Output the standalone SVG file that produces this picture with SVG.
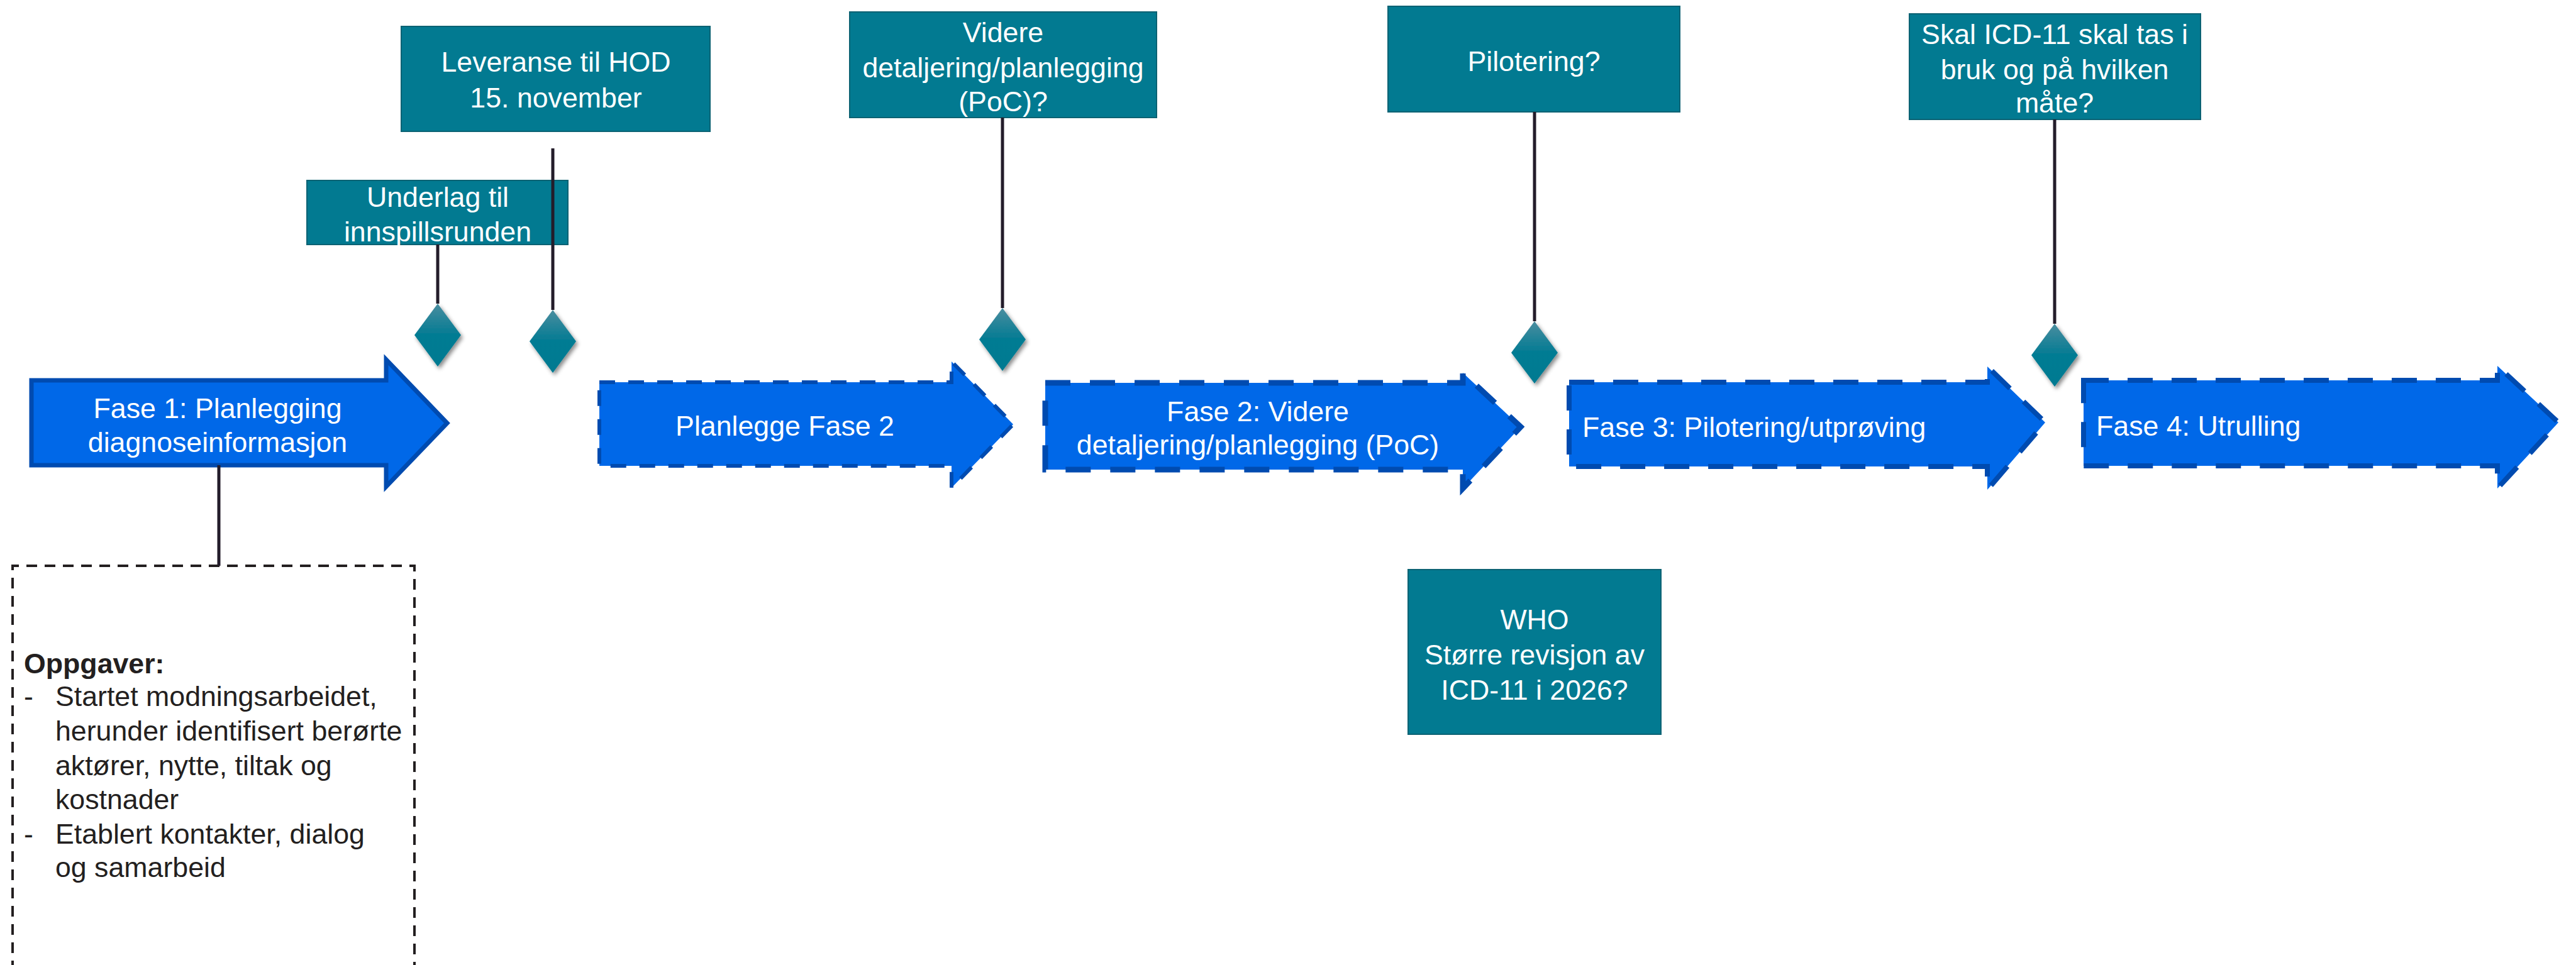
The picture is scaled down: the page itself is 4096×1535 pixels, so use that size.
<svg xmlns="http://www.w3.org/2000/svg" width="4096" height="1535" viewBox="0 0 4096 1535">
<defs>
<linearGradient id="dg" x1="0" y1="0" x2="0" y2="1">
<stop offset="0" stop-color="#4a8d9f"/>
<stop offset="0.5" stop-color="#027b93"/>
<stop offset="1" stop-color="#007a91"/>
</linearGradient>
<filter id="sh" x="-50%" y="-50%" width="200%" height="200%">
<feDropShadow dx="3" dy="4" stdDeviation="3" flood-color="#000" flood-opacity="0.45"/>
</filter>
</defs>
<style>
.box{fill:#027a91;stroke:#0b6273;stroke-width:2}
.bt{font-family:"Liberation Sans",Arial,sans-serif;font-size:44.7px;fill:#ffffff}
.c{text-anchor:middle}
.arr{fill:#0068e8;stroke:#004bb0}
.dia{fill:url(#dg);filter:url(#sh)}
.ln{stroke:#231c2a;stroke-width:5;fill:none}
.dt{font-family:"Liberation Sans",Arial,sans-serif;font-size:44.7px;fill:#231f20}
</style>
<rect width="4096" height="1535" fill="#ffffff"/>

<g id="leveranse">
<rect class="box" x="638" y="42" width="491" height="167"/>
<text class="bt c" x="884" y="114">Leveranse til HOD</text>
<text class="bt c" x="884" y="171">15. november</text>
</g>
<g id="underlag">
<rect class="box" x="488" y="287" width="415" height="102"/>
<text class="bt c" x="696" y="329">Underlag til</text>
<text class="bt c" x="696" y="384">innspillsrunden</text>
</g>
<g id="videre">
<rect class="box" x="1351" y="19" width="488" height="168"/>
<text class="bt c" x="1595" y="67">Videre</text>
<text class="bt c" x="1595" y="123">detaljering/planlegging</text>
<text class="bt c" x="1595" y="177">(PoC)?</text>
</g>
<g id="pilotering">
<rect class="box" x="2207" y="10" width="464" height="168"/>
<text class="bt c" x="2439" y="113">Pilotering?</text>
</g>
<g id="skal">
<rect class="box" x="3036" y="22" width="463" height="168"/>
<text class="bt c" x="3267" y="70">Skal ICD-11 skal tas i</text>
<text class="bt c" x="3267" y="126">bruk og på hvilken</text>
<text class="bt c" x="3267" y="179">måte?</text>
</g>
<g id="who">
<rect class="box" x="2239" y="906" width="402" height="262"/>
<text class="bt c" x="2440" y="1001">WHO</text>
<text class="bt c" x="2440" y="1057">Større revisjon av</text>
<text class="bt c" x="2440" y="1113">ICD-11 i 2026?</text>
</g>

<g id="fase1">
<path class="arr" stroke-width="7" d="M50,605 H614 V572 L711,673 L614,774 V740 H50 Z"/>
<text class="bt c" x="346" y="665">Fase 1: Planlegging</text>
<text class="bt c" x="346" y="719">diagnoseinformasjon</text>
</g>
<g id="planlegge">
<path class="arr" stroke-width="6" stroke-dasharray="25 21" d="M953,608 H1513 V575 L1611,675 L1513,776 V741 H953 Z"/>
<text class="bt c" x="1248" y="693">Planlegge Fase 2</text>
</g>
<g id="fase2">
<path class="arr" stroke-width="9" stroke-dasharray="40 31" d="M1662,609 H2326 V593 L2418,679 L2326,777 V747 H1662 Z"/>
<text class="bt c" x="2000" y="670">Fase 2: Videre</text>
<text class="bt c" x="2000" y="723">detaljering/planlegging (PoC)</text>
</g>
<g id="fase3">
<path class="arr" stroke-width="8" stroke-dasharray="40 30" d="M2495,608 H3160 V583 L3252,672 L3160,779 V742 H2495 Z"/>
<text class="bt" x="2516" y="695">Fase 3: Pilotering/utprøving</text>
</g>
<g id="fase4">
<path class="arr" stroke-width="8" stroke-dasharray="40 30" d="M3313,605 H3971 V582 L4068,672 L3971,777 V741 H3313 Z"/>
<text class="bt" x="3333" y="693">Fase 4: Utrulling</text>
</g>

<g id="oppgaver">
<path d="M20,1545 V900 H659 V1545" fill="none" stroke="#231f20" stroke-width="4" stroke-dasharray="17 12"/>
<text class="dt" x="38" y="1071" font-weight="bold">Oppgaver:</text>
<text class="dt" x="38" y="1123">-</text>
<text class="dt" x="88" y="1123">Startet modningsarbeidet,</text>
<text class="dt" x="88" y="1178">herunder identifisert berørte</text>
<text class="dt" x="88" y="1233">aktører, nytte, tiltak og</text>
<text class="dt" x="88" y="1287">kostnader</text>
<text class="dt" x="38" y="1342">-</text>
<text class="dt" x="88" y="1342">Etablert kontakter, dialog</text>
<text class="dt" x="88" y="1395">og samarbeid</text>
</g>

<g id="connectors">
<path class="ln" d="M696,389 V483"/>
<path class="ln" d="M879,236 V493"/>
<path class="ln" d="M1594,187 V490"/>
<path class="ln" d="M2440,178 V511"/>
<path class="ln" d="M3267,190 V515"/>
<path class="ln" d="M348,740 V900"/>
</g>

<g id="milestones">
<path id="m1" class="dia" d="M696,483 L733,533 L696,583 L659,533 Z"/>
<path id="m2" class="dia" d="M879,493 L916,543 L879,593 L842,543 Z"/>
<path id="m3" class="dia" d="M1594,490 L1631,540 L1594,590 L1557,540 Z"/>
<path id="m4" class="dia" d="M2440,511 L2477,561 L2440,610 L2403,561 Z"/>
<path id="m5" class="dia" d="M3267,515 L3304,565 L3267,615 L3230,565 Z"/>
</g>
</svg>
